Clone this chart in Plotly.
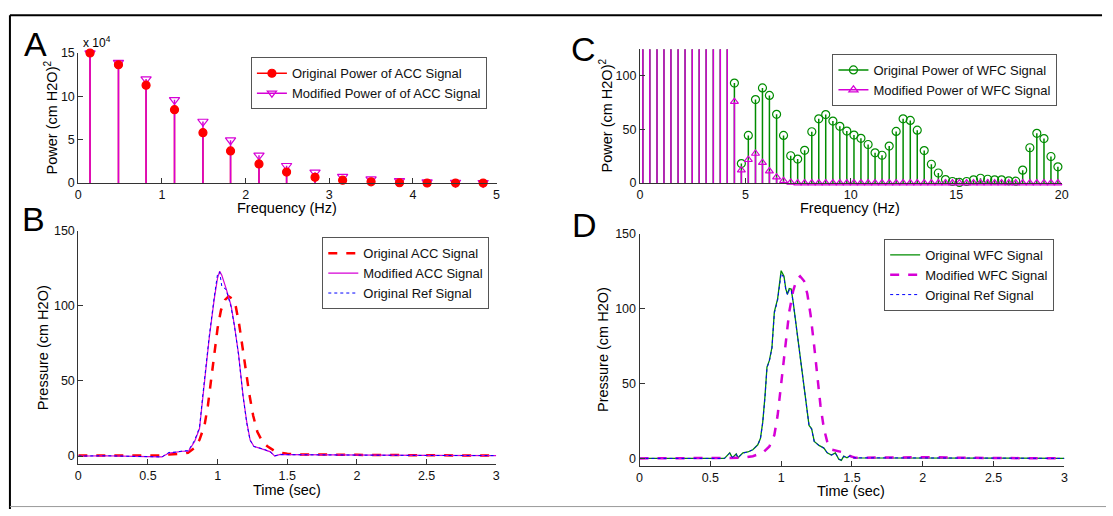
import plotly.graph_objects as go

W, H = 1113, 516
FONT = "Liberation Sans, Arial, sans-serif"

# ---------------- Panel A data (ACC power spectrum) ----------------
freq_a = [0.14, 0.48, 0.81, 1.15, 1.49, 1.82, 2.16, 2.49, 2.83, 3.16, 3.50, 3.84, 4.17, 4.51, 4.84]
orig_power_acc = [150000, 136500, 112900, 84700, 58100, 37100, 22100, 12700, 6700, 3400, 1500, 400, 100, 50, 20]
mod_power_acc = [150000, 139000, 120000, 96000, 71000, 49500, 32000, 20000, 12400, 7500, 4500, 2600, 1100, 700, 400]

# ---------------- Panel C data (WFC power spectrum) ----------------
freq_c = [0.14, 0.47, 0.81, 1.14, 1.47, 1.81, 2.14, 2.48, 2.81, 3.14,
          3.48, 3.81, 4.14, 4.48, 4.81, 5.14, 5.48, 5.81, 6.14, 6.48,
          6.81, 7.15, 7.48, 7.81, 8.15, 8.48, 8.81, 9.15, 9.48, 9.81,
          10.15, 10.48, 10.82, 11.15, 11.48, 11.82, 12.15, 12.48, 12.82, 13.15,
          13.48, 13.82, 14.15, 14.49, 14.82, 15.15, 15.49, 15.82, 16.15, 16.49,
          16.82, 17.15, 17.49, 17.82, 18.15, 18.49, 18.82, 19.16, 19.49, 19.82]
low_power_wfc = [150000, 139000, 120000, 96000, 71000, 49500, 32000, 20000, 12400, 7500, 4500, 2600, 1100]
orig_power_wfc = low_power_wfc + [
    93.3, 18.2, 44.5, 77.9, 88.8, 81.8, 64.2, 44.5, 25.5, 22.4,
    30.6, 47.9, 60.0, 63.9, 57.9, 53.0, 48.5, 44.8, 41.8, 36.0,
    28.2, 26.0, 34.5, 48.2, 60.0, 58.5, 49.4, 30.3, 17.6, 9.4,
    3.3, 1.5, 0.6, 1.5, 3.0, 4.5, 3.6, 3.0, 3.0, 2.1,
    1.8, 12.1, 33.0, 46.4, 41.5, 24.8, 15.2]
mod_power_wfc = low_power_wfc + [
    76.0, 12.1, 21.8, 27.6, 19.1, 11.2, 5.5, 2.1, 0.6, 0.0,
    0.0, 0.0, 0.0, 0.0, 0.0, 0.0, 0.0, 0.0, 0.0, 0.0,
    0.0, 0.0, 0.0, 0.0, 0.0, 0.0, 0.0, 0.0, 0.0, 0.0,
    0.0, 0.0, 0.0, 0.0, 0.0, 0.0, 0.0, 0.0, 0.0, 0.0,
    0.0, 0.0, 0.0, 0.0, 0.0, 0.0, 0.0]

# ---------------- Panel B data (ACC pressure signals) ----------------
t_b = [0.0, 0.2, 0.4, 0.55, 0.6, 0.65, 0.7, 0.75, 0.79, 0.835,
       0.87, 0.894, 0.918, 0.94, 0.976, 1.0, 1.015, 1.03, 1.06, 1.096,
       1.12, 1.15, 1.183, 1.209, 1.233, 1.26, 1.333, 1.38, 1.41, 1.45,
       1.5, 1.7, 2.0, 2.5, 3.0]
mod_acc = [0.0, 0.2, -0.2, -0.3, -0.6, 2.0, 2.8, 3.2, 3.2, 9.7,
           18.3, 40.0, 61.5, 78.8, 104.7, 118.7, 123.0, 120.4, 111.8, 100.4,
           87.4, 68.0, 40.0, 22.7, 10.8, 6.5, 4.3, 2.8, 0.0, 1.1,
           1.0, 0.8, 0.6, 0.4, 0.3]
ref_acc = [0.0, 0.2, -0.2, -0.3, -0.6, 2.4, 2.6, 3.4, 3.6, 10.5,
           19.0, 41.0, 62.5, 80.0, 106.0, 121.5, 122.5, 113.0, 111.0, 99.5,
           87.0, 67.5, 39.5, 22.0, 10.5, 6.3, 4.6, 2.5, 0.2, 1.0,
           0.9, 0.7, 0.5, 0.4, 0.3]
t_b_orig = [0.0, 0.3, 0.5, 0.6, 0.65, 0.7, 0.75, 0.787, 0.835, 0.87,
            0.906, 0.93, 0.953, 0.977, 1.0, 1.024, 1.053, 1.079, 1.107, 1.131,
            1.155, 1.179, 1.202, 1.226, 1.255, 1.285, 1.321, 1.357, 1.404, 1.451,
            1.5, 1.594, 2.0, 2.5, 3.0]
orig_acc = [0.3, 0.3, 0.0, 0.3, 1.0, 1.2, 1.5, 2.2, 5.4, 10.8,
            20.5, 33.5, 49.6, 68.0, 85.3, 97.1, 104.0, 106.4, 104.7, 99.3,
            87.4, 72.3, 57.2, 42.1, 27.0, 16.2, 9.7, 6.5, 3.7, 2.2,
            1.5, 1.1, 0.8, 0.5, 0.3]

# ---------------- Panel D data (WFC pressure signals) ----------------
t_d = [0.0, 0.3, 0.6, 0.637, 0.656, 0.683, 0.695, 0.73, 0.765, 0.8,
       0.835, 0.854, 0.87, 0.886, 0.9, 0.917, 0.935, 0.952, 0.975, 1.0,
       1.02, 1.033, 1.045, 1.057, 1.071, 1.085, 1.103, 1.127, 1.15, 1.173,
       1.197, 1.215, 1.234, 1.267, 1.302, 1.325, 1.355, 1.383, 1.407, 1.425,
       1.442, 1.465, 1.488, 1.512, 1.7, 2.0, 2.5, 3.0]
orig_wfc = [0.0, 0.0, 0.0, 3.7, 0.4, 3.0, 0.4, 3.7, 4.3, 5.8,
            9.1, 13.4, 24.2, 41.6, 61.0, 65.4, 74.0, 97.8, 106.5, 125.3,
            121.6, 113.0, 109.7, 113.4, 113.0, 104.3, 91.3, 76.2, 58.9, 39.4,
            22.0, 19.9, 11.3, 8.7, 6.9, 3.7, 2.2, 3.7, -0.6, -1.3,
            1.5, 0.4, 1.9, 0.4, 0.3, 0.0, 0.2, 0.0]
ref_wfc = [0.0, 0.0, 0.0, 3.5, 0.6, 2.8, 0.5, 3.5, 4.3, 5.8,
           9.0, 13.2, 24.0, 41.0, 60.5, 65.0, 73.5, 97.0, 105.5, 123.5,
           120.5, 112.5, 109.0, 112.5, 112.5, 104.0, 91.0, 76.0, 58.5, 39.0,
           22.0, 19.5, 11.0, 8.7, 6.9, 3.9, 2.2, 3.5, -0.4, -1.1,
           1.4, 0.5, 1.7, 0.4, 0.3, 0.0, 0.2, 0.0]
t_d_mod = [0.0, 0.3, 0.6, 0.73, 0.8, 0.87, 0.917, 0.952, 0.975, 1.0,
           1.033, 1.057, 1.085, 1.11, 1.134, 1.162, 1.185, 1.208, 1.232, 1.255,
           1.278, 1.302, 1.325, 1.36, 1.407, 1.453, 1.488, 1.523, 1.7, 1.9,
           2.1, 2.3, 2.6, 3.0]
mod_wfc = [0.0, 0.0, 0.0, 0.4, 1.5, 3.7, 8.0, 15.6, 28.6, 50.2,
           78.4, 97.8, 111.9, 119.5, 121.6, 118.4, 109.7, 95.7, 76.2, 54.5,
           35.0, 19.9, 11.3, 5.8, 4.8, 3.7, 1.5, 0.4, 0.6, 0.8,
           0.8, 0.4, 0.2, 0.0]

# ---------------- colours ----------------
RED = "rgb(255,0,0)"
MAG = "rgb(214,0,214)"
GREEN = "rgb(0,140,0)"
BLUE = "rgb(0,0,255)"
AXC = "#333333"


def px(x):
    return x / W


def py(y):
    return 1 - y / H


def stem_xy(xs, ys):
    sx, sy = [], []
    for x, y in zip(xs, ys):
        sx += [x, x, None]
        sy += [0, y, None]
    return sx, sy


fig = go.Figure()


def add_stem(xs, ys, color, symbol, size, xa, ya, width=1.5):
    sx, sy = stem_xy(xs, ys)
    fig.add_trace(go.Scatter(x=sx, y=sy, mode="lines", line=dict(color=color, width=width),
                             xaxis=xa, yaxis=ya, showlegend=False, hoverinfo="skip"))
    return dict(x=xs, y=ys, color=color, symbol=symbol, size=size, xa=xa, ya=ya)


def add_markers(m):
    fig.add_trace(go.Scatter(
        x=m["x"], y=m["y"], mode="markers", xaxis=m["xa"], yaxis=m["ya"], showlegend=False,
        cliponaxis=False, hoverinfo="skip",
        marker=dict(symbol=m["symbol"], size=m["size"], color=m["color"],
                    line=dict(color=m["color"], width=1.2))))


def add_legend_entry(name, color, legend, xa, ya, symbol=None, size=7, dash="solid", width=1.5):
    mode = "lines+markers" if symbol else "lines"
    kw = dict(marker=dict(symbol=symbol, size=size, color=color, line=dict(color=color, width=1.2))) if symbol else {}
    fig.add_trace(go.Scatter(x=[None], y=[None], mode=mode, name=name, legend=legend,
                             xaxis=xa, yaxis=ya, line=dict(color=color, width=width, dash=dash), **kw))


# Panel A
add_legend_entry("Original Power of ACC Signal", RED, "legend", "x", "y", symbol="circle", size=8)
add_legend_entry("Modified Power of of ACC Signal", MAG, "legend", "x", "y", symbol="triangle-down-open", size=8)
mA1 = add_stem(freq_a, orig_power_acc, RED, "circle", 8, "x", "y")
mA2 = add_stem(freq_a, mod_power_acc, MAG, "triangle-down-open", 9, "x", "y")
add_markers(mA2)
add_markers(mA1)

# Panel C
add_legend_entry("Original Power of WFC Signal", GREEN, "legend3", "x3", "y3", symbol="circle-open", size=8)
add_legend_entry("Modified Power of WFC Signal", MAG, "legend3", "x3", "y3", symbol="triangle-up-open", size=8)
mC1 = add_stem(freq_c, orig_power_wfc, GREEN, "circle-open", 8, "x3", "y3")
add_markers(mC1)
mC2 = add_stem(freq_c, mod_power_wfc, MAG, "triangle-up-open", 7, "x3", "y3")
add_markers(mC2)

# Panel B
fig.add_trace(go.Scatter(x=t_b_orig, y=orig_acc, mode="lines", name="Original ACC Signal", legend="legend2",
                         xaxis="x2", yaxis="y2", line=dict(color=RED, width=2.5, dash="dash")))
fig.add_trace(go.Scatter(x=t_b, y=mod_acc, mode="lines", name="Modified ACC Signal", legend="legend2",
                         xaxis="x2", yaxis="y2", line=dict(color=MAG, width=1.2)))
fig.add_trace(go.Scatter(x=t_b, y=ref_acc, mode="lines", name="Original Ref Signal", legend="legend2",
                         xaxis="x2", yaxis="y2", line=dict(color=BLUE, width=1, dash="dot")))

# Panel D
fig.add_trace(go.Scatter(x=t_d, y=orig_wfc, mode="lines", name="Original WFC Signal", legend="legend4",
                         xaxis="x4", yaxis="y4", line=dict(color=GREEN, width=1.3)))
fig.add_trace(go.Scatter(x=t_d_mod, y=mod_wfc, mode="lines", name="Modified WFC Signal", legend="legend4",
                         xaxis="x4", yaxis="y4", line=dict(color=MAG, width=2.5, dash="dash")))
fig.add_trace(go.Scatter(x=t_d, y=ref_wfc, mode="lines", name="Original Ref Signal", legend="legend4",
                         xaxis="x4", yaxis="y4", line=dict(color=BLUE, width=1, dash="dot")))

tickfont = dict(family=FONT, size=12.5, color="#111111")


def axis(domain, anchor, rng, **kw):
    d = dict(domain=domain, anchor=anchor, range=rng, showline=True, linecolor=AXC, linewidth=1,
             ticks="inside", ticklen=5, tickcolor=AXC, tickwidth=1, showgrid=False, zeroline=False,
             tickfont=tickfont, mirror=False, fixedrange=True)
    d.update(kw)
    return d


legend_common = dict(bgcolor="white", bordercolor="#555555", borderwidth=1,
                     font=dict(family=FONT, size=13, color="#111111"),
                     xanchor="right", yanchor="top", itemwidth=30, tracegroupgap=0)

fig.update_layout(
    width=W, height=H, margin=dict(l=0, r=0, t=0, b=0),
    paper_bgcolor="white", plot_bgcolor="white",
    font=dict(family=FONT, color="#111111"),
    xaxis=axis([px(76), px(498)], "y", [0, 5], dtick=1),
    yaxis=axis([py(181), py(47.3)], "x", [0, 150000], tickvals=[0, 50000, 100000, 150000],
               ticktext=["0", "5", "10", "15"]),
    xaxis2=axis([px(76), px(497.7)], "y2", [0, 3], dtick=0.5),
    yaxis2=axis([py(469.3), py(230)], "x2", [-5, 150], tickvals=[0, 50, 100, 150]),
    xaxis3=axis([px(642.7), px(1068.3)], "y3", [0, 20], dtick=5),
    yaxis3=axis([py(181), py(43.3)], "x3", [0, 125], tickvals=[0, 50, 100]),
    xaxis4=axis([px(642.3), px(1071)], "y4", [0, 3], dtick=0.5),
    yaxis4=axis([py(471.7), py(233)], "x4", [-5, 150], tickvals=[0, 50, 100, 150]),
    legend=dict(legend_common, x=px(488.3), y=py(51.7)),
    legend2=dict(legend_common, x=px(490.7), y=py(236.7)),
    legend3=dict(legend_common, x=px(1064), y=py(48.3)),
    legend4=dict(legend_common, x=px(1060.7), y=py(238.3)),
)

annotations = []


def ann(text, x, y, size, angle=0, xanchor="center", yanchor="middle"):
    annotations.append(dict(text=text, x=px(x), y=py(y), xref="paper", yref="paper", showarrow=False,
                            textangle=angle, xanchor=xanchor, yanchor=yanchor,
                            font=dict(family=FONT, size=size, color="#000000")))


# Panel letters
ann("A", 33, 38, 34)
ann("B", 31, 218, 34)
ann("C", 586, 43, 34)
ann("D", 587, 224, 34)
# multiplier
ann("x 10<sup>4</sup>", 79, 36, 12, xanchor="left")
# axis titles
ann("Frequency (Hz)", 287, 207, 14.5)
ann("Frequency (Hz)", 855, 207, 14.5)
ann("Time (sec)", 287, 496, 14.5)
ann("Time (sec)", 856, 498, 14.5)
ann("Power (cm H2O)<sup>2</sup>", 48, 114, 14.5, angle=-90)
ann("Power (cm H2O)<sup>2</sup>", 608, 112, 14.5, angle=-90)
ann("Pressure (cm H2O)", 40, 350, 14.5, angle=-90)
ann("Pressure (cm H2O)", 606, 352, 14.5, angle=-90)
fig.update_layout(annotations=annotations)

# outer frame
fig.update_layout(shapes=[
    dict(type="line", xref="paper", yref="paper", x0=px(7), x1=px(1109), y0=py(8.5), y1=py(8.5),
         line=dict(color="#000000", width=2)),
    dict(type="line", xref="paper", yref="paper", x0=px(7), x1=px(7), y0=py(8.5), y1=py(516),
         line=dict(color="#000000", width=2)),
    dict(type="line", xref="paper", yref="paper", x0=px(7), x1=px(1113), y0=py(513.5), y1=py(513.5),
         line=dict(color="#999999", width=1)),
])

fig.write_html("out.html", config={"displayModeBar": False},
               post_script="document.body.style.margin='0';")
